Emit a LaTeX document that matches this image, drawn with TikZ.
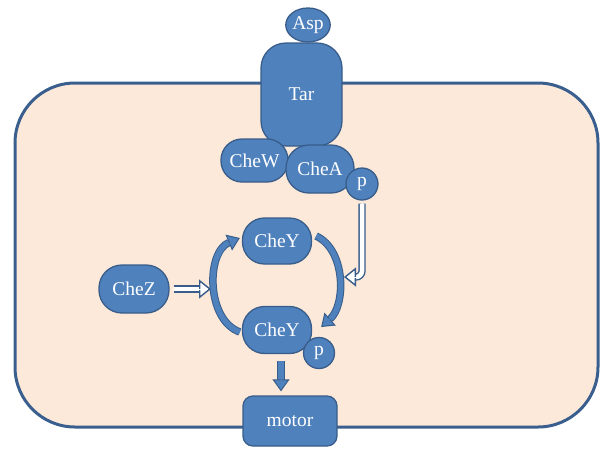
\documentclass[tikz,border=0pt]{standalone}
\usepackage{fontspec}
\setmainfont{Liberation Serif}
\usetikzlibrary{arrows.meta,calc,shapes.geometric}
\definecolor{cheblue}{HTML}{4F81BD}
\definecolor{cheline}{HTML}{385D8A}
\definecolor{cellfill}{HTML}{FDE9D9}
\definecolor{celline}{HTML}{3A5F8E}
\begin{document}
\begin{tikzpicture}[x=1pt, y=-1pt,
  prot/.style={draw=cheline, fill=cheblue, text=white, line width=1.3pt, inner sep=0pt, font=\fontsize{19.5}{21}\selectfont},
  pill/.style={prot, rounded corners=22pt, minimum width=69pt, minimum height=46pt},
  hollow/.style={draw=cheline, line width=1.4pt, double=white, double distance=4.5pt, -{Triangle[width=19pt,length=12pt,line width=1.4pt,fill=white]},
    postaction={draw=white, line width=0pt, -, shorten >=5pt}},
  block/.style={draw=cheline, line width=1pt, double=cheblue, double distance=5.5pt, -{Triangle[width=17pt,length=12pt,line width=1pt,fill=cheblue]},
    postaction={draw=cheblue, line width=0pt, -, shorten >=5pt}}]
\useasboundingbox (0,0) rectangle (600,448);
\draw[celline, fill=cellfill, line width=3pt, rounded corners=60pt] (15,83) rectangle (598,427); % cell

\node[prot, rounded corners=25pt, minimum width=81pt, minimum height=103pt] (tar) at (301.5,94.5) {Tar}; % receptor
\node[prot, ellipse, minimum width=42pt, minimum height=34pt] (asp) at (308,25) {Asp}; % ligand
\node[pill, rounded corners=21pt, minimum width=67pt, minimum height=43pt] (chew) at (254.5,160.5) {CheW};
\node[pill, rounded corners=23pt, minimum width=68pt, minimum height=48pt] (chea) at (320,169) {CheA};
\node[prot, circle, minimum size=32pt] (pa) at (362,184) {p}; % phosphate on CheA

\node[pill] (chey) at (277,241) {CheY};
\node[pill, minimum height=47pt] (cheyp) at (277,330) {CheY};
\node[prot, circle, minimum size=31pt] (py) at (319,353) {p}; % phosphate on CheY
\node[pill, rounded corners=23pt, minimum width=70pt, minimum height=48pt] (chez) at (134,289) {CheZ};
\node[prot, rounded corners=10pt, minimum width=94pt, minimum height=50pt] (motor) at (290,421) {motor};

\coordinate (zend) at (211,289); % CheZ arrow tip
\coordinate (aend) at (344,277); % CheA arrow tip
\draw[hollow] ($(chez.east)+(4,0)$) -- (zend); % dephosphorylation
\draw[hollow, rounded corners=6pt] ($(pa.south)+(0,3)$) |- (aend); % phosphorylation

\draw[block] ($(cheyp.west)+(-2,2)$) .. controls (206,320) and (206,252) .. ($(chey.west)+(-2,-3)$); % left loop
\draw[block] ($(chey.east)+(4,-5)$) .. controls (346,250) and (346,305) .. ($(cheyp.east)+(9,-3)$); % right loop
\draw[block] ($(cheyp.south)+(4,7)$) -- ($(motor.north)+(-9,-4)$); % to motor
\end{tikzpicture}
\end{document}
